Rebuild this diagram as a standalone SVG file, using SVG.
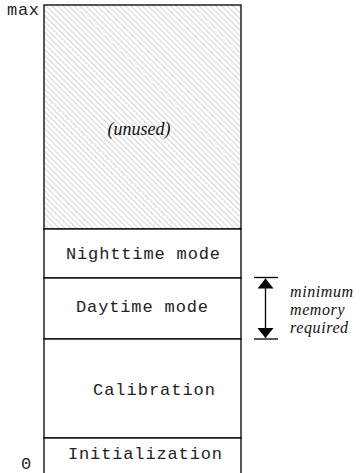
<svg xmlns="http://www.w3.org/2000/svg" width="360" height="473" viewBox="0 0 360 473">
  <style>
    .box { fill: #ffffff; stroke: #000000; stroke-width: 1.3; }
    .mono { font-family: "Liberation Mono", "DejaVu Sans Mono", monospace; font-size: 17px; fill: #222222; }
    .note { font-family: "Liberation Serif", "DejaVu Serif", serif; font-style: italic; font-size: 18px; fill: #111111; }
    .side { font-size: 16px; letter-spacing: 0.6px; }
    .mid { text-anchor: middle; }
    .dim { stroke: #000000; stroke-width: 1.3; fill: none; }
  </style>
  <defs>
    <pattern id="hatch" patternUnits="userSpaceOnUse" width="4" height="4" patternTransform="rotate(-45)">
      <rect width="4" height="4" fill="#ffffff"/>
      <line x1="0" y1="0" x2="0" y2="4" stroke="#c4c4c4" stroke-width="1.4"/>
    </pattern>
    <marker id="head" viewBox="0 0 10 16" refX="10" refY="8" markerWidth="10" markerHeight="16" markerUnits="userSpaceOnUse" orient="auto">
      <path d="M0,0 L10,8 L0,16 Z" fill="#000000"/>
    </marker>
  </defs>

  <!-- axis labels -->
  <text class="mono" x="7" y="15" textLength="32" lengthAdjust="spacing">max</text>
  <text class="mono" x="21" y="469">0</text>

  <!-- memory segments, top to bottom -->
  <g id="unused">
    <rect class="box" x="44" y="5" width="197" height="224" style="fill:url(#hatch)"/>
    <text class="note mid" x="139" y="135">(unused)</text>
  </g>
  <g id="nighttime">
    <rect class="box" x="44" y="229" width="197" height="49"/>
    <text class="mono" x="66" y="259" textLength="154" lengthAdjust="spacing">Nighttime mode</text>
  </g>
  <g id="daytime">
    <rect class="box" x="44" y="278" width="197" height="61"/>
    <text class="mono" x="76" y="312" textLength="132" lengthAdjust="spacing">Daytime mode</text>
  </g>
  <g id="calibration">
    <rect class="box" x="44" y="339" width="197" height="99"/>
    <text class="mono" x="93" y="395" textLength="122" lengthAdjust="spacing">Calibration</text>
  </g>
  <g id="initialization">
    <rect class="box" x="44" y="438" width="197" height="40"/>
    <text class="mono" x="68" y="459" textLength="154" lengthAdjust="spacing">Initialization</text>
  </g>

  <!-- dimension: minimum memory required -->
  <g id="connectors">
    <line class="dim" x1="254" y1="277.5" x2="278" y2="277.5"/>
    <line class="dim" x1="254" y1="339" x2="278" y2="339"/>
    <line class="dim" x1="265.5" y1="308" x2="265.5" y2="278.5" marker-end="url(#head)"/>
    <line class="dim" x1="265.5" y1="308" x2="265.5" y2="338" marker-end="url(#head)"/>
  </g>
  <g id="requirement-note">
    <text class="note side" x="290" y="297">minimum</text>
    <text class="note side" x="290" y="315">memory</text>
    <text class="note side" x="290" y="333">required</text>
  </g>
</svg>
